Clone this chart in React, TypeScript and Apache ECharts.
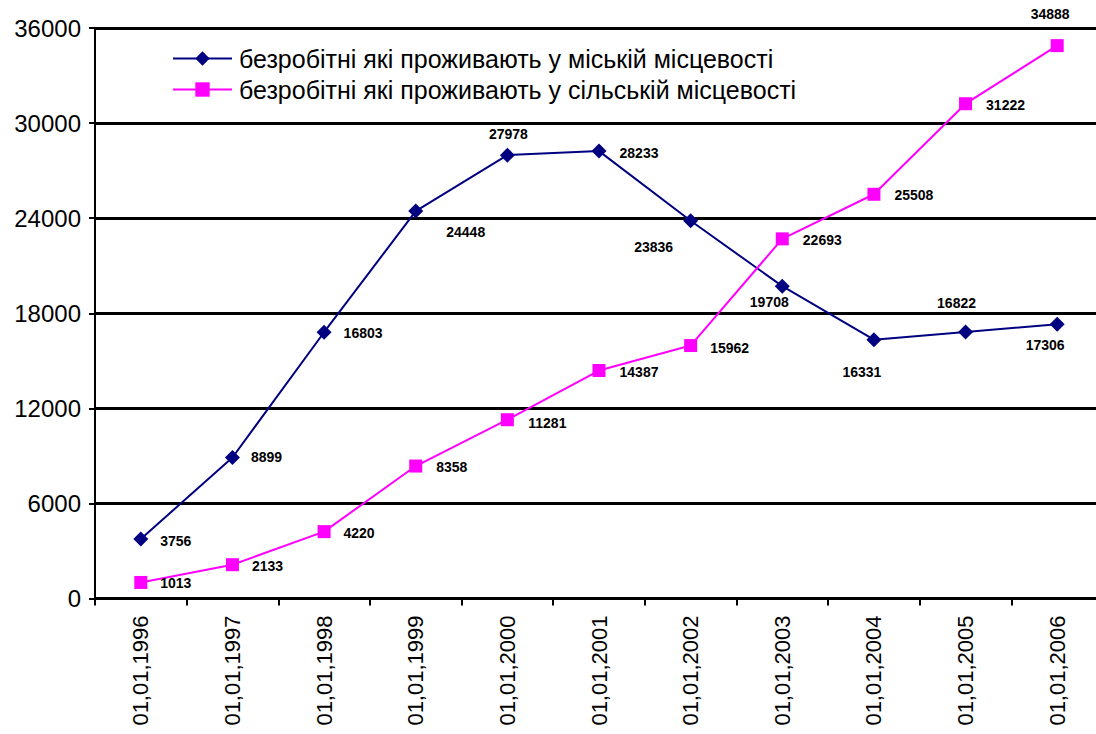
import React, { useEffect, useRef } from "react";
import * as echarts from "echarts";

const categories = [
  "01,01,1996", "01,01,1997", "01,01,1998", "01,01,1999", "01,01,2000",
  "01,01,2001", "01,01,2002", "01,01,2003", "01,01,2004", "01,01,2005", "01,01,2006",
];
const urbanName = "безробітні які проживають у міській місцевості";
const ruralName = "безробітні які проживають у сільській місцевості";
const urbanValues = [3756, 8899, 16803, 24448, 27978, 28233, 23836, 19708, 16331, 16822, 17306];
const ruralValues = [1013, 2133, 4220, 8358, 11281, 14387, 15962, 22693, 25508, 31222, 34888];

// label centre offsets relative to each marker (styling only)
const urbanLabelOffsets = [
  [35, 2], [34, 0], [39, 1], [50, 21], [1, -21], [40, 2],
  [-37, 26], [-13, 16], [-12, 32], [-9, -29], [-12, 21],
];
const ruralLabelOffsets = [
  [35, 1], [35, 1], [35, 1], [36, 1], [40, 3], [40, 1],
  [39, 2], [40, 1], [40, 1], [40, 1], [-7, -32],
];

const FONT = "'Liberation Sans', Arial, sans-serif";

function buildData(values: number[], offsets: number[][]) {
  return values.map((v, i) => ({
    value: v,
    label: {
      show: true,
      position: "inside",
      align: "center",
      verticalAlign: "middle",
      offset: offsets[i],
    },
  }));
}

export default function App() {
  const ref = useRef<HTMLDivElement>(null);
  useEffect(() => {
    if (!ref.current) return;
    const chart = echarts.init(ref.current, null, { renderer: "svg" });
    const labelStyle = {
      color: "#000",
      fontSize: 14,
      fontWeight: "bold",
      fontFamily: FONT,
    };
    chart.setOption({
      animation: false,
      backgroundColor: "#fff",
      grid: { left: 95, right: 0, top: 28, bottom: 135.5, containLabel: false },
      legend: {
        orient: "vertical",
        left: 167,
        top: 41,
        itemWidth: 59,
        itemHeight: 18,
        itemGap: 6,
        textStyle: { fontSize: 25, lineHeight: 25, color: "#000", fontFamily: FONT, padding: [0, 0, 0, 2] },
        data: [urbanName, ruralName],
      },
      xAxis: {
        type: "category",
        data: categories,
        boundaryGap: true,
        axisLine: { show: true, lineStyle: { color: "#000", width: 2 } },
        axisTick: { show: true, length: 7, lineStyle: { color: "#000", width: 2 } },
        axisLabel: { rotate: 90, fontSize: 22, color: "#000", fontFamily: FONT, margin: 17, interval: 0 },
        splitLine: { show: false },
      },
      yAxis: {
        type: "value",
        min: 0,
        max: 36000,
        interval: 6000,
        axisLine: { show: true, lineStyle: { color: "#000", width: 2 } },
        axisTick: { show: true, length: 6, lineStyle: { color: "#000", width: 2 } },
        axisLabel: {
          fontSize: 24,
          color: "#000",
          fontFamily: FONT,
          margin: 14,
          formatter: (v: number) => String(v),
        },
        splitLine: { show: true, lineStyle: { color: "#000", width: 3 } },
      },
      series: [
        {
          name: urbanName,
          type: "line",
          data: buildData(urbanValues, urbanLabelOffsets),
          symbol: "diamond",
          symbolSize: 15,
          lineStyle: { color: "#000080", width: 2 },
          itemStyle: { color: "#000080" },
          label: labelStyle,
          z: 3,
        },
        {
          name: ruralName,
          type: "line",
          data: buildData(ruralValues, ruralLabelOffsets),
          symbol: "rect",
          symbolSize: 13,
          lineStyle: { color: "#FF00FF", width: 2 },
          itemStyle: { color: "#FF00FF" },
          label: labelStyle,
          z: 4,
        },
      ],
    });
    return () => chart.dispose();
  }, []);
  return (
    <div style={{ position: "fixed", left: 0, top: 0, width: 1096, height: 734, overflow: "hidden", background: "#fff" }}>
      <div ref={ref} style={{ position: "absolute", left: 0, top: 0, width: 1103, height: 734 }} />
    </div>
  );
}
